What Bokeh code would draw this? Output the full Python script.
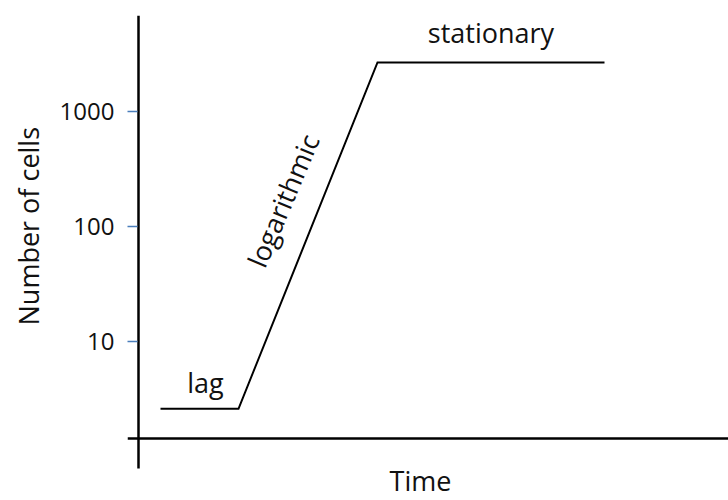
import math
from bokeh.plotting import figure
from bokeh.models import Span, Title, Range1d, FixedTicker, NumeralTickFormatter, ColumnDataSource
from bokeh.embed import file_html
from bokeh.resources import INLINE
from bokeh.core.properties import value

# ---- data ----
time = [0.44, 2.0, 4.78, 9.32]          # phase boundaries (arbitrary time units)
cells = [2.6, 2.6, 2670, 2670]          # number of cells (log scale)
phases = ["lag", "logarithmic", "stationary"]
y_ticks = [10, 100, 1000]
x_title = "Time"
y_title = "Number of cells"

FONT = "Open Sans"
FS_TICK = "24px"
FS = "27px"
INK = "#111111"

# view extents
X0, X1 = -0.22, 11.8
Y0, Y1 = 0.4144, 6839
AXIS_X = 0          # where the vertical axis line crosses
AXIS_Y = 1.434      # where the horizontal axis line crosses
AXIS_Y_END = 0.787  # lower end of the vertical axis line

p = figure(width=728, height=500, y_axis_type="log",
           x_range=Range1d(X0, X1), y_range=Range1d(Y0, Y1),
           output_backend="svg", toolbar_location=None,
           min_border_left=127, min_border_right=0,
           min_border_top=15, min_border_bottom=0)
p.outline_line_color = None
p.xgrid.visible = False
p.ygrid.visible = False
p.xaxis.visible = False

ax = p.yaxis[0]
ax.ticker = FixedTicker(ticks=y_ticks)
ax.formatter = NumeralTickFormatter(format="0")
ax.axis_line_color = None
ax.major_tick_in = 10
ax.major_tick_out = 0
ax.minor_tick_line_color = None
ax.major_tick_line_color = "#4A7EBB"
ax.major_tick_line_width = 1.5
ax.major_label_text_font = FONT
ax.major_label_text_font_size = FS_TICK
ax.major_label_text_color = INK
ax.major_label_standoff = 13

# axis cross lines
p.segment(x0=[AXIS_X], y0=[AXIS_Y_END], x1=[AXIS_X], y1=[Y1],
          line_color="black", line_width=2.5)
p.add_layout(Span(location=AXIS_Y, dimension="width", line_color="black", line_width=2.5))

# growth curve
p.line(time, cells, line_color="black", line_width=2, line_join="miter")

# phase labels at the middle of each phase segment
mx = [(time[i] + time[i + 1]) / 2 for i in range(3)]
my = [math.sqrt(cells[i] * cells[i + 1]) for i in range(3)]
src = ColumnDataSource(dict(x=mx, y=my, t=phases,
                            xo=[6, -25, 0], yo=[-26, -35, -30],
                            a=[0, math.radians(67), 0],
                            b=["alphabetic", "middle", "alphabetic"]))
p.text(x="x", y="y", text="t", x_offset="xo", y_offset="yo", angle="a",
       text_baseline="b", text_align="center", source=src,
       text_font=value(FONT), text_font_size=value(FS), text_color=INK)

# x title under the horizontal axis
p.text(x=[(time[0] + time[-1]) / 2], y=[AXIS_Y], text=[x_title], y_offset=42,
       x_offset=38, text_align="center", text_baseline="middle",
       text_font=value(FONT), text_font_size=value(FS), text_color=INK)

p.add_layout(Title(text=y_title, align="left", offset=175, standoff=16,
                   vertical_align="top",
                   text_font=FONT, text_font_size=FS, text_color=INK,
                   text_font_style="normal"), "left")

open("out.html", "w").write(file_html(p, INLINE))
